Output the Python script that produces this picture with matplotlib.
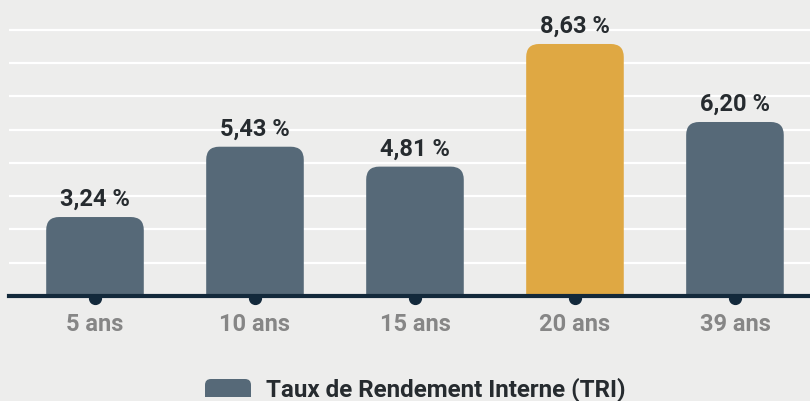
import matplotlib
matplotlib.use("Agg")
import matplotlib.pyplot as plt
import numpy as np
from matplotlib.path import Path
from matplotlib.patches import PathPatch

plt.rcParams["font.family"] = ["Roboto", "DejaVu Sans"]
plt.rcParams["font.weight"] = "bold"

# Données
categories = ["5 ans", "10 ans", "15 ans", "20 ans", "39 ans"]
tri_values = [3.24, 5.43, 4.81, 8.63, 6.20]
value_labels = ["3,24 %", "5,43 %", "4,81 %", "8,63 %", "6,20 %"]
highlight = "20 ans"
legend_label = "Taux de Rendement Interne (TRI)"

BG = "#ededec"
BAR = "#566978"
HIGHLIGHT = "#dfa843"
NAVY = "#13293b"
TEXT = "#262b2f"
TICK = "#868686"

Y_MIN, Y_MAX, Y_STEP = 0.78, 10.0, 1.037
BAR_W = 0.61
RADIUS_PX = 13


def top_rounded_path(x0, x1, base, top, rx, ry):
    ry = min(ry, (top - base))
    verts = [(x0, base), (x0, top - ry), (x0, top), (x0 + rx, top),
             (x1 - rx, top), (x1, top), (x1, top - ry), (x1, base), (x0, base)]
    codes = [Path.MOVETO, Path.LINETO, Path.CURVE3, Path.CURVE3,
             Path.LINETO, Path.CURVE3, Path.CURVE3, Path.LINETO, Path.CLOSEPOLY]
    return Path(verts, codes)


fig = plt.figure(figsize=(8.10, 4.01), dpi=100, facecolor=BG)
ax = fig.add_axes([9 / 810, 105 / 401, 801 / 810, 296 / 401])
ax.set_facecolor(BG)
ax.set_xlim(-0.5375, 4.469)
ax.set_ylim(Y_MIN, Y_MAX)

# px par unité pour arrondir les coins
px_x = 801 / (4.469 + 0.5375)
px_y = 296 / (Y_MAX - Y_MIN)
rx, ry = RADIUS_PX / px_x, RADIUS_PX / px_y

x = np.arange(len(categories))
for xi, cat, val, lab in zip(x, categories, tri_values, value_labels):
    color = HIGHLIGHT if cat == highlight else BAR
    path = top_rounded_path(xi - BAR_W / 2, xi + BAR_W / 2, Y_MIN, val, rx, ry)
    ax.add_patch(PathPatch(path, facecolor=color, edgecolor="none", zorder=2))
    ax.annotate(lab, (xi, val), xytext=(0, 8), textcoords="offset points",
                ha="center", va="baseline", fontsize=17, fontweight="bold",
                color=TEXT, zorder=4)

# grille
ax.set_yticks(np.arange(Y_MIN + Y_STEP, Y_MAX, Y_STEP))
ax.yaxis.grid(True, color="white", linewidth=1.6, zorder=0)
ax.set_axisbelow(True)
ax.tick_params(axis="y", left=False, labelleft=False)

# axe x
for s in ["top", "right", "left"]:
    ax.spines[s].set_visible(False)
ax.spines["bottom"].set_color(NAVY)
ax.spines["bottom"].set_linewidth(3)
ax.spines["bottom"].set_zorder(5)
# points sous l'axe (moitié cachée par les barres)
ax.plot(x, [Y_MIN - 2 / px_y] * len(x), "o", color=NAVY, ms=8.5,
        clip_on=False, zorder=1.5)
ax.set_xticks(x)
ax.set_xticklabels(categories, fontsize=17, fontweight="bold", color=TICK)
ax.tick_params(axis="x", length=0, pad=12.5)

# légende
leg_x0, leg_x1 = 205 / 810, 251 / 810
leg_y0, leg_y1 = 4 / 401, 22 / 401
lrx, lry = 6 / 810, 6 / 401
fig.patches.append(PathPatch(top_rounded_path(leg_x0, leg_x1, leg_y0, leg_y1, lrx, lry),
                             facecolor=BAR, edgecolor="none", transform=fig.transFigure))
fig.text(266 / 810, 4 / 401, legend_label, ha="left", va="baseline",
         fontsize=17.4, fontweight="bold", color=TEXT)

fig.savefig("out.png", dpi=100, facecolor=BG)
